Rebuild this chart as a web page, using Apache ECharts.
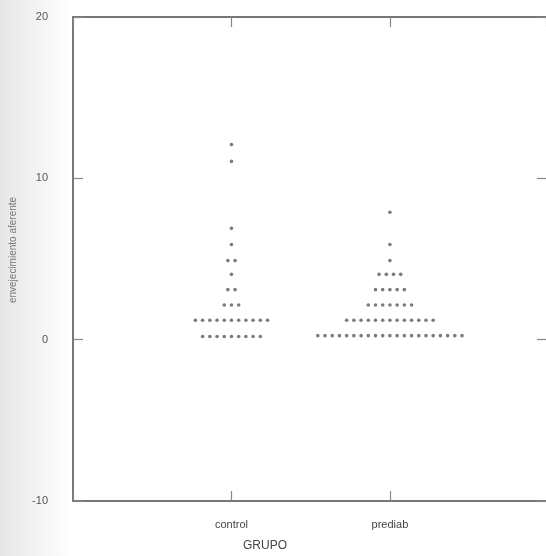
<!DOCTYPE html>
<html>
<head>
<meta charset="utf-8">
<script src="https://cdn.jsdelivr.net/npm/echarts@6/dist/echarts.min.js"></script>
<style>html,body{margin:0;padding:0;background:#fff}#c{width:546px;height:556px}</style>
</head>
<body>
<div id="c"></div>
<script>
var categories = ['control', 'prediab'];
var yTicks = [-10, 0, 10, 20];
// value rows (y) and how many observations sit on each row
var controlValues = [0.2, 1.2, 2.15, 3.1, 4.05, 4.9, 5.9, 6.9, 11.05, 12.1];
var controlCounts = [9, 11, 3, 2, 1, 2, 1, 1, 1, 1];
var prediabValues = [0.25, 1.2, 2.15, 3.1, 4.05, 4.9, 5.9, 7.9];
var prediabCounts = [21, 13, 7, 5, 4, 1, 1, 1];
var yTitle = 'envejecimiento aferente';
var xTitle = 'GRUPO';

var stackStep = 0.0455; // horizontal stacking offset (x-axis units)
function stackPoints(catIndex, values, counts) {
  var pts = [];
  for (var r = 0; r < values.length; r++) {
    var n = counts[r];
    for (var i = 0; i < n; i++) {
      pts.push([catIndex + 1 + (i - (n - 1) / 2) * stackStep, values[r]]);
    }
  }
  return pts;
}

var font = 'Liberation Sans, Arial, sans-serif';
var lineCol = '#4a4a4a';
var labelMap = {1: categories[0], 2: categories[1]};
function axisLine(show) { return {show: show !== false, onZero: false, lineStyle: {color: lineCol, width: 1.5}}; }
function axisTick() { return {show: true, inside: true, length: 10, lineStyle: {color: '#888', width: 1.2}}; }

var chart = echarts.init(document.getElementById('c'), null, {renderer: 'canvas'});
chart.setOption({
  animation: false,
  backgroundColor: '#fff',
  graphic: [{
    type: 'rect', z: -10, silent: true,
    shape: {x: 0, y: 0, width: 72, height: 556},
    style: {fill: new echarts.graphic.LinearGradient(0, 0, 1, 0, [
      {offset: 0, color: '#e6e6e6'}, {offset: 1, color: '#ffffff'}])}
  }, {
    type: 'text', left: 243, top: 540,
    style: {text: xTitle, font: '12px ' + font, fill: '#444'}
  }, {
    type: 'text', x: 13, y: 250, rotation: Math.PI / 2,
    style: {text: yTitle, font: '10px ' + font, fill: '#777', align: 'center', verticalAlign: 'middle'}
  }],
  grid: {left: 73, right: 0, top: 17, bottom: 55},
  xAxis: [{
    type: 'value', min: 0, max: 2.985, interval: 1, position: 'bottom',
    axisLine: axisLine(), axisTick: axisTick(),
    axisLabel: {margin: 18, color: '#444', fontFamily: font, fontSize: 11, showMaxLabel: false,
      formatter: function (v) { return labelMap[Math.round(v)] || ''; }},
    splitLine: {show: false}
  }, {
    type: 'value', min: 0, max: 2.985, interval: 1, position: 'top',
    axisLine: axisLine(), axisTick: axisTick(),
    axisLabel: {show: false},
    splitLine: {show: false}
  }],
  yAxis: [{
    type: 'value', min: yTicks[0], max: yTicks[yTicks.length - 1], interval: 10, position: 'left',
    axisLine: axisLine(), axisTick: axisTick(),
    axisLabel: {margin: 25, color: '#555', fontFamily: font, fontSize: 11},
    splitLine: {show: false}
  }, {
    type: 'value', min: yTicks[0], max: yTicks[yTicks.length - 1], interval: 10, position: 'right',
    axisLine: axisLine(false), axisTick: {show: true, inside: true, length: 9, lineStyle: {color: '#888', width: 1.2}},
    axisLabel: {show: false},
    splitLine: {show: false}
  }],
  series: [{
    name: categories[0], type: 'scatter', symbol: 'circle', symbolSize: 3.6,
    itemStyle: {color: '#5a5a5a'},
    data: stackPoints(0, controlValues, controlCounts)
  }, {
    name: categories[1], type: 'scatter', symbol: 'circle', symbolSize: 3.6,
    itemStyle: {color: '#5a5a5a'},
    data: stackPoints(1, prediabValues, prediabCounts)
  }]
});
</script>
</body>
</html>
